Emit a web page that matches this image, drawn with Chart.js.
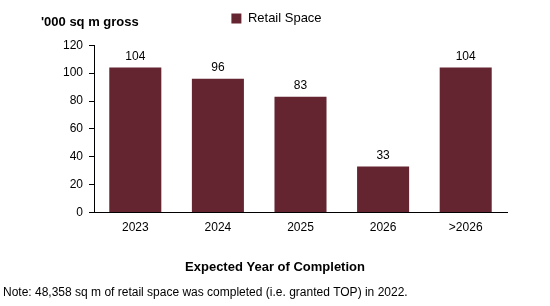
<!DOCTYPE html>
<html>
<head>
<meta charset="utf-8">
<script src="https://cdn.jsdelivr.net/npm/chart.js@4/dist/chart.umd.min.js"></script>
<style>
  html, body { margin: 0; padding: 0; background: #fff; }
  #wrap { width: 550px; height: 306px; }
</style>
</head>
<body>
<div id="wrap"><canvas id="retailChart" width="550" height="306"></canvas></div>
<script>
const categories = ['2023', '2024', '2025', '2026', '>2026'];
const retailSpace = [104, 96, 83, 33, 104];
const yTicks = [0, 20, 40, 60, 80, 100, 120];

const FONT = "'Liberation Sans', Arial, sans-serif";

// extra texts: y unit label, x title, value labels
const textPlugin = {
    id: 'texts',
    afterDatasetsDraw(chart) {
        const ctx = chart.ctx;
        ctx.save();
        ctx.fillStyle = '#000';
        ctx.font = `12px ${FONT}`;
        ctx.textAlign = 'center';
        ctx.textBaseline = 'bottom';
        const meta = chart.getDatasetMeta(0);
        meta.data.forEach((bar, i) => {
            ctx.fillText(String(retailSpace[i]), bar.x, bar.y - 5);
        });

        ctx.font = `bold 13px ${FONT}`;
        ctx.textBaseline = 'middle';
        ctx.textAlign = 'left';
        ctx.fillText("'000 sq m gross", 41, 22);

        ctx.textAlign = 'center';
        ctx.fillText('Expected Year of Completion', 275, 267);
        ctx.restore();
    }
};

new Chart(document.getElementById('retailChart'), {
    type: 'bar',
    data: {
        labels: categories,
        datasets: [{
            label: 'Retail Space',
            data: retailSpace,
            backgroundColor: '#652530',
            borderWidth: 0,
            categoryPercentage: 1,
            barPercentage: 0.63
        }]
    },
    options: {
        responsive: false,
        animation: false,
        layout: { padding: { left: 3, right: 0, top: 0, bottom: 0 } },
        plugins: {
            legend: {
                position: 'top',
                labels: {
                    boxWidth: 10,
                    boxHeight: 10,
                    padding: 12,
                    color: '#000',
                    font: { family: FONT, size: 13 }
                }
            },
            // empty spacer between legend and plot
            subtitle: {
                display: true,
                position: 'top',
                weight: 500,
                text: '',
                font: { size: 1 },
                padding: { top: 0, bottom: 9 }
            },
            title: {
                display: true,
                position: 'bottom',
                align: 'start',
                text: 'Note: 48,358 sq m of retail space was completed (i.e. granted TOP) in 2022.',
                color: '#000',
                font: { family: FONT, size: 12, weight: 'normal' },
                padding: { top: 5, bottom: 6 }
            },
            tooltip: { enabled: false }
        },
        scales: {
            x: {
                grid: { display: false, drawTicks: false },
                border: { color: '#000', width: 1 },
                ticks: { color: '#000', font: { family: FONT, size: 12 }, padding: 8 },
                afterFit(scale) { scale.height = 68; }
            },
            y: {
                min: 0,
                max: 120,
                afterBuildTicks(scale) { scale.ticks = yTicks.map(v => ({ value: v })); },
                grid: { drawOnChartArea: false, drawTicks: true, tickLength: 5, color: '#000' },
                border: { color: '#000', width: 1 },
                ticks: { color: '#000', font: { family: FONT, size: 12 }, padding: 6 },
                afterFit(scale) { scale.width = 91; }
            },
            // empty right margin so the legend centres on the whole canvas
            yRight: {
                position: 'right',
                display: true,
                grid: { display: false, drawTicks: false },
                border: { display: false },
                ticks: { display: false },
                afterFit(scale) { scale.width = 43; }
            }
        }
    },
    plugins: [textPlugin]
});
</script>
</body>
</html>
